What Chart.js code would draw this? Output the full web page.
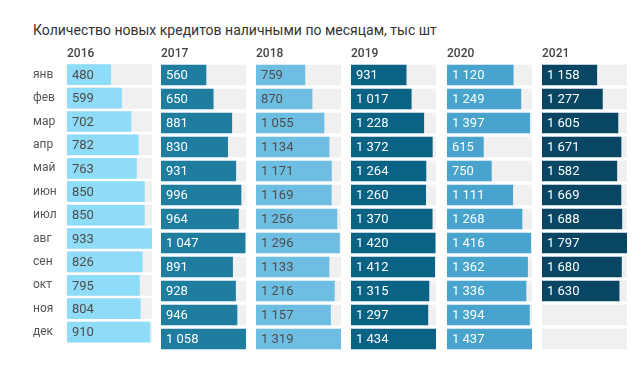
<!DOCTYPE html>
<html>
<head>
<meta charset="utf-8">
<script src="https://cdn.jsdelivr.net/npm/chart.js@4"></script>
<style>
    body { margin: 0; background: #fff; width: 644px; height: 369px; overflow: hidden; position: relative; font-family: Roboto, sans-serif; }
    #title { position: absolute; left: 33px; top: 21px; font-size: 14px; line-height: 18px; color: #333; white-space: nowrap; }
    canvas { position: absolute; top: 42px; }
</style>
</head>
<body>
<div id="title">Количество новых кредитов наличными по месяцам, тыс шт</div>
<canvas id="c0"></canvas>
<canvas id="c1"></canvas>
<canvas id="c2"></canvas>
<canvas id="c3"></canvas>
<canvas id="c4"></canvas>
<canvas id="c5"></canvas>
<script>
const months = ['янв', 'фев', 'мар', 'апр', 'май', 'июн', 'июл', 'авг', 'сен', 'окт', 'ноя', 'дек'];
const years = ['2016', '2017', '2018', '2019', '2020', '2021'];

const v2016 = [480, 599, 702, 782, 763, 850, 850, 933, 826, 795, 804, 910];
const v2017 = [560, 650, 881, 830, 931, 996, 964, 1047, 891, 928, 946, 1058];
const v2018 = [759, 870, 1055, 1134, 1171, 1169, 1256, 1296, 1133, 1216, 1157, 1319];
const v2019 = [931, 1017, 1228, 1372, 1264, 1260, 1370, 1420, 1412, 1315, 1297, 1434];
const v2020 = [1120, 1249, 1397, 615, 750, 1111, 1268, 1416, 1362, 1336, 1394, 1437];
const v2021 = [1158, 1277, 1605, 1671, 1582, 1669, 1688, 1797, 1680, 1630, null, null];

const series = [v2016, v2017, v2018, v2019, v2020, v2021];
const barColors = ['#8fdcf8', '#1f7da0', '#6ebee4', '#0a6285', '#48a4cc', '#084664'];
const textColors = ['#4d4d4d', '#fff', '#4d4d4d', '#fff', '#fff', '#fff'];

// panel placement in page pixels
const panelLeft = [67, 161, 256, 351, 447, 542];
const panelWidth = 85;
const axisWidth = 34;

const fmt = v => String(v).replace(/\B(?=(\d{3})+(?!\d))/g, '\u00a0');

const panelLabels = {
    id: 'panelLabels',
    afterDatasetsDraw(chart, args, opts) {
        const {ctx, chartArea} = chart;
        const values = chart.data.datasets[0].data;
        ctx.save();
        ctx.font = '13px Roboto';
        ctx.fillStyle = opts.color;
        ctx.textBaseline = 'middle';
        chart.getDatasetMeta(0).data.forEach((bar, i) => {
            if (values[i] == null) return;
            ctx.fillText(fmt(values[i]), chartArea.left + 5, bar.y + 1);
        });
        ctx.font = '500 12px Roboto';
        ctx.fillStyle = '#444';
        ctx.fillText(opts.year, chartArea.left, chartArea.top - 9);
        ctx.restore();
    }
};

years.forEach((year, i) => {
    const canvas = document.getElementById('c' + i);
    const first = i === 0;
    const w = first ? panelWidth + axisWidth : panelWidth;
    canvas.width = w;
    canvas.height = 309;
    canvas.style.left = (panelLeft[i] - (first ? axisWidth : 0)) + 'px';

    const values = series[i];
    const max = Math.max(...values.filter(v => v != null));

    const yScale = {
        display: first,
        grid: {display: false},
        border: {display: false},
        ticks: {
            color: '#555',
            font: {family: 'Roboto', size: 12},
            crossAlign: 'far',
            padding: 0
        }
    };
    if (first) yScale.afterFit = s => { s.width = axisWidth; };

    new Chart(canvas, {
        type: 'bar',
        data: {
            labels: months,
            datasets: [{
                data: values,
                backgroundColor: barColors[i],
                barThickness: 20,
                grouped: false,
                order: 1
            }, {
                data: months.map(() => max),
                backgroundColor: '#f0f0f0',
                barThickness: 20,
                grouped: false,
                order: 2
            }]
        },
        options: {
            indexAxis: 'y',
            responsive: false,
            animation: false,
            layout: {padding: {top: 21, left: 0, right: 0, bottom: 0}},
            scales: {
                x: {display: false, min: 0, max},
                y: yScale
            },
            plugins: {
                legend: {display: false},
                tooltip: {enabled: false},
                panelLabels: {year, color: textColors[i]}
            }
        },
        plugins: [panelLabels]
    });
});
</script>
</body>
</html>
